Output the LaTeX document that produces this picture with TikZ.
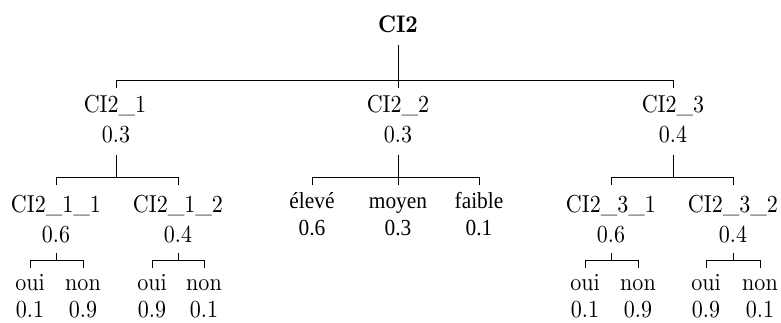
\documentclass[tikz,border=0pt]{standalone}
\usepackage{fontspec}
\setmainfont{lmroman10-regular.otf}[BoldFont=lmroman10-bold.otf,FakeStretch=0.9]
\newfontfamily\tnr{Liberation Serif}[FakeStretch=0.93]
\usetikzlibrary{calc}
\begin{document}
\begin{tikzpicture}[x=1pt,y=1pt,line width=0.9pt,
  lbl/.style={anchor=base,inner sep=0pt,font=\fontsize{24.5}{28}\selectfont},
  rootlbl/.style={anchor=base,inner sep=0pt,font=\fontsize{24}{28}\selectfont\bfseries},
  midlbl/.style={anchor=base,inner sep=0pt,font=\tnr\fontsize{23}{26}\selectfont}]
\useasboundingbox (0,0) rectangle (781,-323);
% root
\node[rootlbl] (r) at (398,-33) {CI2};
% level 1
\node[lbl] (c1) at (115,-113) {CI2\_1}; \node[lbl] (c1p) at (116,-143) {0.3};
\node[lbl] (c2) at (398,-113) {CI2\_2}; \node[lbl] (c2p) at (398,-143) {0.3};
\node[lbl] (c3) at (673,-113) {CI2\_3}; \node[lbl] (c3p) at (673,-143) {0.4};
% level 2
\node[lbl] (c11) at (56,-212) {CI2\_1\_1}; \node[lbl] (c11p) at (56,-242) {0.6};
\node[lbl] (c12) at (178,-212) {CI2\_1\_2}; \node[lbl] (c12p) at (178,-242) {0.4};
\node[midlbl] (e1) at (312,-208) {élevé}; \node[midlbl] (e1p) at (312,-235) {0.6};
\node[midlbl] (e2) at (398,-208) {moyen}; \node[midlbl] (e2p) at (398,-235) {0.3};
\node[midlbl] (e3) at (479,-208) {faible}; \node[midlbl] (e3p) at (479,-235) {0.1};
\node[lbl] (c31) at (611,-212) {CI2\_3\_1}; \node[lbl] (c31p) at (611,-242) {0.6};
\node[lbl] (c32) at (733,-212) {CI2\_3\_2}; \node[lbl] (c32p) at (733,-242) {0.4};
% leaves
\node[lbl] (a1) at (30,-290) {oui}; \node[lbl] (a1p) at (30,-317) {0.1};
\node[lbl] (a2) at (83,-290) {non}; \node[lbl] (a2p) at (83,-317) {0.9};
\node[lbl] (b1) at (152,-290) {oui}; \node[lbl] (b1p) at (152,-317) {0.9};
\node[lbl] (b2) at (204,-290) {non}; \node[lbl] (b2p) at (204,-317) {0.1};
\node[lbl] (d1) at (585,-290) {oui}; \node[lbl] (d1p) at (585,-317) {0.1};
\node[lbl] (d2) at (638,-290) {non}; \node[lbl] (d2p) at (638,-317) {0.9};
\node[lbl] (f1) at (706,-290) {oui}; \node[lbl] (f1p) at (706,-317) {0.9};
\node[lbl] (f2) at (760,-290) {non}; \node[lbl] (f2p) at (760,-317) {0.1};
% junction heights
\coordinate (j0) at (0,-80);
\coordinate (j1) at (0,-177);
\coordinate (j2) at (0,-260);
% root connectors
\draw ([yshift=-12pt]r.base) -- ($(r|-j0)+(0,-8)$);
\draw ($(c1p|-j0)+(0,-8)$) -- (c1p|-j0) -- (c3|-j0) -- ++(0,-8);
% level-1 connectors
\draw ([yshift=-12pt]c1p.base) -- (c1p|-j1);
\draw ($(c11|-j1)+(0,-8)$) -- (c11|-j1) -- (c12|-j1) -- ++(0,-8);
\draw ([yshift=-12pt]c2p.base) -- ($(c2p|-j1)+(0,-8)$);
\draw ($(e1|-j1)+(0,-8)$) -- (e1|-j1) -- (e3|-j1) -- ++(0,-8);
\draw ([yshift=-12pt]c3p.base) -- (c3p|-j1);
\draw ($(c31|-j1)+(0,-8)$) -- (c31|-j1) -- (c32|-j1) -- ++(0,-8);
% level-2 connectors
\draw ([yshift=-11pt]c11p.base) -- (c11p|-j2);
\draw ($(a1|-j2)+(0,-8)$) -- (a1|-j2) -- (a2|-j2) -- ++(0,-8);
\draw ([yshift=-11pt]c12p.base) -- (c12p|-j2);
\draw ($(b1|-j2)+(0,-8)$) -- (b1|-j2) -- (b2|-j2) -- ++(0,-8);
\draw ([yshift=-11pt]c31p.base) -- (c31p|-j2);
\draw ($(d1|-j2)+(0,-8)$) -- (d1|-j2) -- (d2|-j2) -- ++(0,-8);
\draw ([yshift=-11pt]c32p.base) -- (c32p|-j2);
\draw ($(f1|-j2)+(0,-8)$) -- (f1|-j2) -- (f2|-j2) -- ++(0,-8);
\end{tikzpicture}
\end{document}
